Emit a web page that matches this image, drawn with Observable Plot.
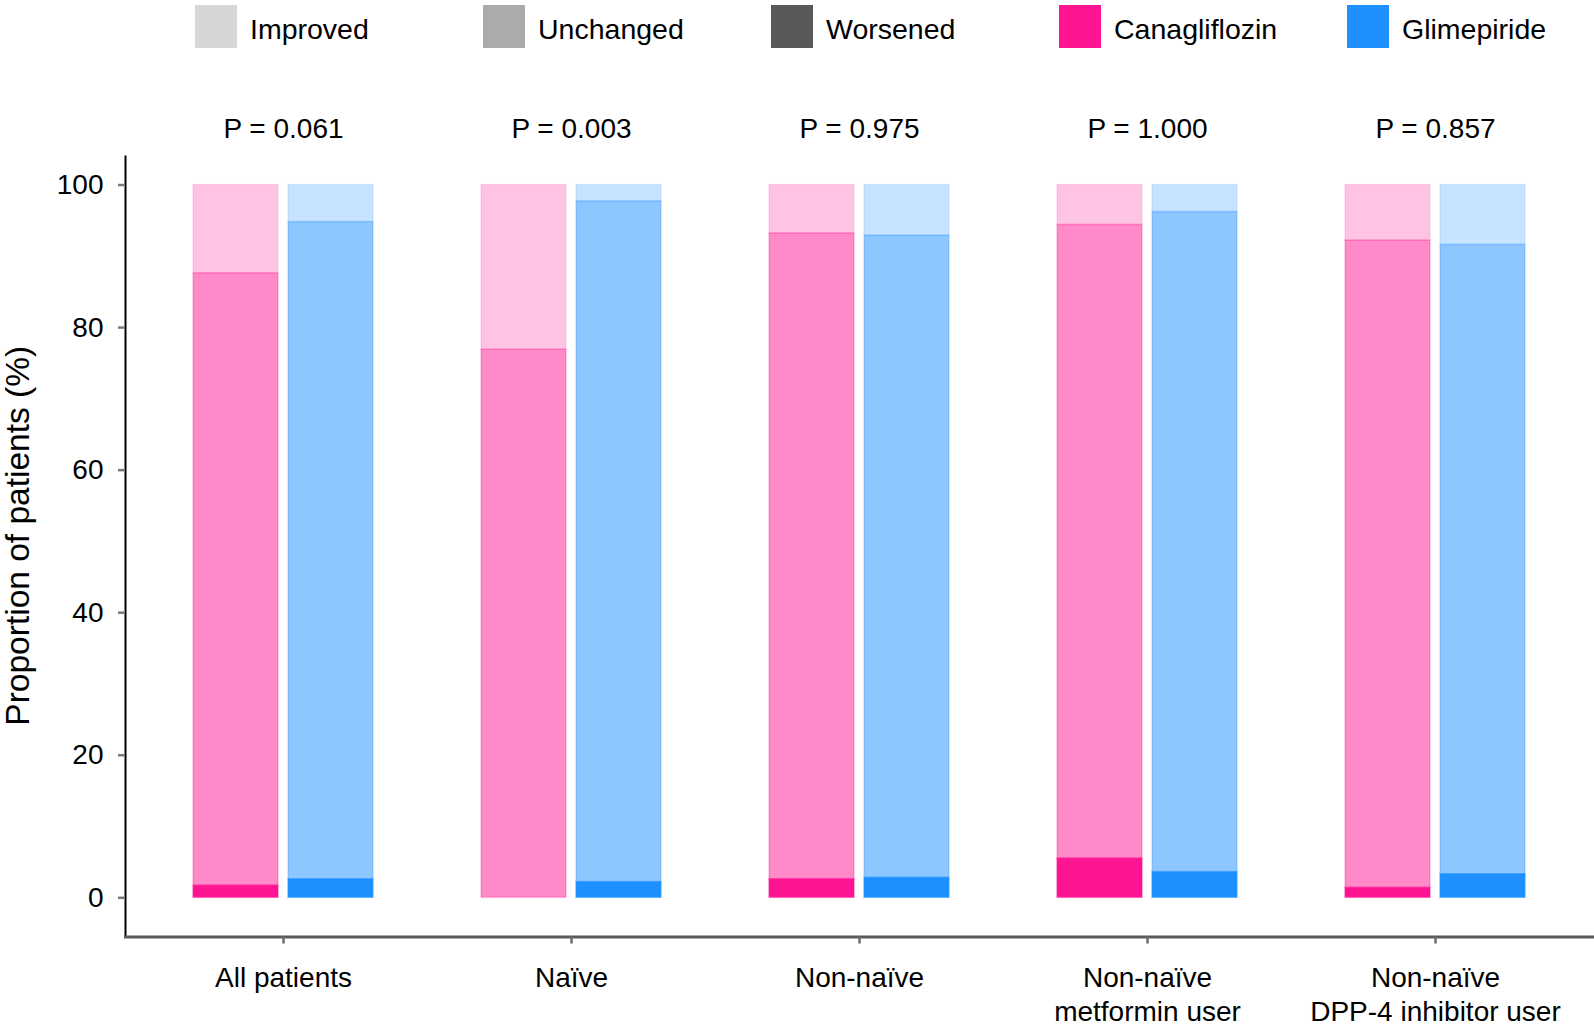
<!DOCTYPE html>
<html>
<head>
<meta charset="utf-8">
<script src="https://cdn.jsdelivr.net/npm/d3@7"></script>
<script src="https://cdn.jsdelivr.net/npm/@observablehq/plot@0.6"></script>
<style>
  html, body { margin: 0; padding: 0; background: #fff; }
  body { width: 1594px; height: 1032px; overflow: hidden; font-family: "Liberation Sans", Arial, sans-serif; color: #000; }
  #legend { height: 60px; display: flex; padding-left: 195px; box-sizing: border-box; padding-top: 5px; }
  .item { width: 288px; flex: none; display: flex; align-items: center; height: 43px; }
  .sw { width: 42px; height: 43px; margin-right: 13px; flex: none; }
  .lab { font-size: 28.5px; line-height: 43px; padding-top: 6px; white-space: nowrap; }
</style>
</head>
<body>
<div id="legend"></div>
<div id="chart"></div>
<script>
// ---- data ----
const categories = ["All patients", "Naïve", "Non-naïve", "Non-naïve\nmetformin user", "Non-naïve\nDPP-4 inhibitor user"];
const pValues = ["P = 0.061", "P = 0.003", "P = 0.975", "P = 1.000", "P = 0.857"];
const outcomes = ["Worsened", "Unchanged", "Improved"];
const canaWorsened  = [1.7, 0.0, 2.6, 5.5, 1.4];
const canaUnchanged = [85.9, 76.9, 90.6, 88.9, 90.8];
const canaImproved  = [12.4, 23.1, 6.8, 5.6, 7.8];
const glimWorsened  = [2.6, 2.2, 2.8, 3.6, 3.3];
const glimUnchanged = [92.2, 95.5, 90.1, 92.6, 88.3];
const glimImproved  = [5.2, 2.3, 7.1, 3.8, 8.4];
const yTicks = [0, 20, 40, 60, 80, 100];
const legendOutcomes = ["Improved", "Unchanged", "Worsened"];
const drugs = ["Canagliflozin", "Glimepiride"];

// ---- styles ----
const drugColor = {Canagliflozin: "#FF1493", Glimepiride: "#1E90FF"};
const alpha = {Worsened: 1, Unchanged: 0.5, Improved: 0.25};
const outcomeSwatch = {Improved: "#d6d6d6", Unchanged: "#ababab", Worsened: "#595959"};

function rows(w, u, imp) {
  const out = [];
  categories.forEach((c, i) => {
    out.push({category: c, outcome: "Worsened", value: w[i]});
    out.push({category: c, outcome: "Unchanged", value: u[i]});
    out.push({category: c, outcome: "Improved", value: imp[i]});
  });
  return out;
}
const cana = rows(canaWorsened, canaUnchanged, canaImproved);
const glim = rows(glimWorsened, glimUnchanged, glimImproved);

// ---- legend ----
const legend = document.getElementById("legend");
const legendItems = [
  ...legendOutcomes.map(o => ({label: o, color: outcomeSwatch[o]})),
  ...drugs.map(d => ({label: d, color: drugColor[d]}))
];
for (const it of legendItems) {
  const div = document.createElement("div");
  div.className = "item";
  const sw = document.createElement("div");
  sw.className = "sw";
  sw.style.background = it.color;
  const lab = document.createElement("span");
  lab.className = "lab";
  lab.textContent = it.label;
  div.appendChild(sw);
  div.appendChild(lab);
  legend.appendChild(div);
}

// ---- chart ----
const barOpts = (drug) => ({
  x: "category",
  y: "value",
  fill: drugColor[drug],
  fillOpacity: d => alpha[d.outcome],
  stroke: drugColor[drug],
  strokeOpacity: d => alpha[d.outcome] * 0.5,
  strokeWidth: 1.5
});

const plot = Plot.plot({
  width: 1594,
  height: 972,
  marginTop: 96,
  marginBottom: 95.5,
  marginLeft: 125,
  marginRight: 0,
  style: {fontFamily: "Liberation Sans, Arial, sans-serif", fontSize: "28px", color: "#000", background: "#fff"},
  x: {domain: categories, paddingInner: 0.374, paddingOuter: 0.235, label: null},
  y: {domain: [-5.5, 104], label: null},
  opacity: {type: "linear", domain: [0, 1], range: [0, 1]},
  marks: [
    Plot.barY(cana, {...barOpts("Canagliflozin"), insetRight: 95}),
    Plot.barY(glim, {...barOpts("Glimepiride"), insetLeft: 95}),
    Plot.frame({anchor: "left", stroke: "#000", strokeWidth: 2}),
    Plot.frame({anchor: "bottom", stroke: "#5a5a5a", strokeWidth: 3}),
    Plot.axisY({ticks: yTicks, tickSize: 7, tickPadding: 15, stroke: "#7a7a7a", strokeWidth: 2.5, label: null}),
    Plot.axisX({tickSize: 7, tickPadding: 19, stroke: "#6a6a6a", strokeWidth: 2.5, lineHeight: 1.22, label: null}),
    Plot.text(categories, {x: d => d, text: (d, i) => pValues[i], frameAnchor: "top", dy: -38, fontSize: 28}),
    Plot.text(["Proportion of patients (%)"], {text: d => d, frameAnchor: "left", textAnchor: "middle", rotate: -90, dx: -107, dy: -11, fontSize: 33.5})
  ]
});
document.getElementById("chart").appendChild(plot);
</script>
</body>
</html>
